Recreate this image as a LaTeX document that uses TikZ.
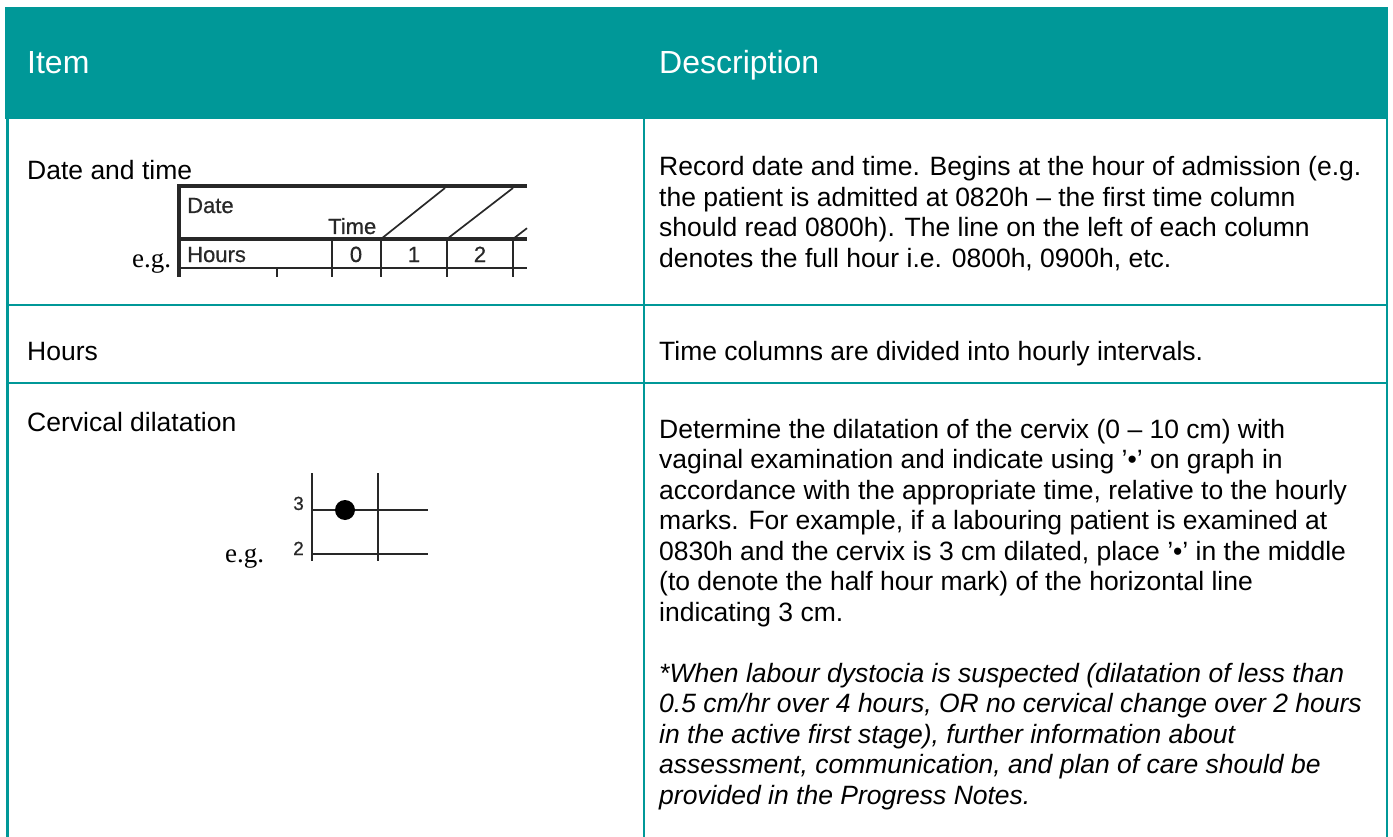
\documentclass[tikz,border=0pt]{standalone}
\usepackage{fontspec}
\setmainfont{Liberation Sans}
\newfontfamily\egserif{Liberation Serif}
\newfontfamily\scanfont[FakeBold=0.6]{Liberation Sans}
\definecolor{hdrteal}{RGB}{0,152,152}
\definecolor{inkgray}{RGB}{40,40,40}
\newcommand\plines[1]{\vtop{\halign{##\hfil\cr#1\crcr}}}
\tikzset{
  tline/.style={draw=hdrteal, line width=2.6pt},
  hdrtext/.style={inner sep=0pt, text=white, font=\fontsize{32}{36}\selectfont},
  bodytext/.style={inner sep=0pt, text=black, font=\fontsize{26.5}{30.5}\selectfont},
  sthick/.style={draw=inkgray, line width=3.2pt},
  sthin/.style={draw=inkgray, line width=1.7pt},
  stext/.style={inner sep=0pt, text=inkgray, font=\scanfont\fontsize{22}{24}\selectfont},
  snum/.style={inner sep=0pt, text=inkgray, font=\scanfont\fontsize{19}{22}\selectfont},
  egtext/.style={inner sep=0pt, text=black, font=\egserif\fontsize{27}{30}\selectfont}
}
\begin{document}
\begin{tikzpicture}[x=1pt,y=-1pt]
\useasboundingbox (0,0) rectangle (1393,837);
\fill[white] (0,0) rectangle (1393,837);
% header
\fill[hdrteal] (5,7) rectangle (1388,119);
\node[hdrtext, anchor=base west] (hItem) at (27,74) {Item};
\node[hdrtext, anchor=base west] (hDesc) at (659,74) {Description};
% table lines
\draw[tline] (7.5,119) -- (7.5,837);
\draw[tline] (644,119) -- (644,837);
\draw[tline] (1387,119) -- (1387,837);
\draw[tline] (6.2,305) -- (1388.3,305);
\draw[tline] (6.2,383) -- (1388.3,383);
% row 1
\node[bodytext, anchor=base west] (iDate) at (27,180) {Date and time};
\node[bodytext, anchor=base west] (dDate) at (659,176) {\plines{%
Record date and time. Begins at the hour of admission (e.g.\cr
the patient is admitted at 0820h – the first time column\cr
should read 0800h). The line on the left of each column\cr
denotes the full hour i.e. 0800h, 0900h, etc.}};
% sample 1
\draw[sthick] (177.4,186) -- (527,186);
\draw[sthick] (179,184.4) -- (179,277);
\draw[sthick] (179,239) -- (527,239);
\draw[sthin] (179,268) -- (527,268);
\foreach \xx in {332,381,447,513} \draw[sthin] (\xx,239) -- (\xx,277);
\draw[sthin] (277,268) -- (277,277);
\draw[sthin] (381,239) -- (445,188);
\draw[sthin] (447,239) -- (513,188);
\draw[sthin] (513,239) -- (527,228.2);
\node[stext, anchor=base west] (sDate) at (187,213) {Date};
\node[stext, anchor=base west] (sTime) at (328,234) {Time};
\node[stext, anchor=base west] (sHours) at (187,262) {Hours};
\node[stext, anchor=base] (s0) at (356,262) {0};
\node[stext, anchor=base] (s1) at (414,262) {1};
\node[stext, anchor=base] (s2) at (480,262) {2};
\node[egtext, anchor=base west] (eg1) at (132,268) {e.g.};
% row 2
\node[bodytext, anchor=base west] (iHours) at (27,360) {Hours};
\node[bodytext, anchor=base west] (dHours) at (659,360) {Time columns are divided into hourly intervals.};
% row 3
\node[bodytext, anchor=base west] (iCerv) at (27,431) {Cervical dilatation};
\node[bodytext, anchor=base west] (dCerv) at (659,438) {\plines{%
Determine the dilatation of the cervix (0 – 10 cm) with\cr
vaginal examination and indicate using ’•’ on graph in\cr
accordance with the appropriate time, relative to the hourly\cr
marks. For example, if a labouring patient is examined at\cr
0830h and the cervix is 3 cm dilated, place ’•’ in the middle\cr
(to denote the half hour mark) of the horizontal line\cr
indicating 3 cm.}};
\node[bodytext, anchor=base west] (dNote) at (659,682) {\plines{%
\itshape *When labour dystocia is suspected (dilatation of less than\cr
\itshape 0.5 cm/hr over 4 hours, OR no cervical change over 2 hours\cr
\itshape in the active first stage), further information about\cr
\itshape assessment, communication, and plan of care should be\cr
\itshape provided in the Progress Notes.}};
% sample 2
\draw[sthin] (312,473) -- (312,561);
\draw[sthin] (378,473) -- (378,561);
\draw[sthin] (312,510) -- (428,510);
\draw[sthin] (312,554) -- (428,554);
\fill[black] (345,510) circle (10);
\node[snum, anchor=base east] (n3) at (304,510) {3};
\node[snum, anchor=base east] (n2) at (304,555) {2};
\node[egtext, anchor=base west] (eg2) at (225,562) {e.g.};
\end{tikzpicture}
\end{document}
